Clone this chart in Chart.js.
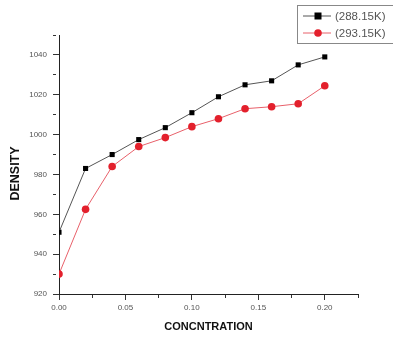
<!DOCTYPE html>
<html>
<head>
<meta charset="utf-8">
<script src="https://cdn.jsdelivr.net/npm/chart.js@4"></script>
<style>
  html, body { margin: 0; padding: 0; background: #fff; }
  #wrap { width: 393px; height: 342px; }
</style>
</head>
<body>
<div id="wrap"><canvas id="densityChart" width="393" height="342"></canvas></div>
<script>
// concentration values (x)
const concentration = [0.00, 0.02, 0.04, 0.06, 0.08, 0.10, 0.12, 0.14, 0.16, 0.18, 0.20];
// density
const density288 = [951, 983, 990, 997.5, 1003.5, 1011, 1019, 1025, 1027, 1035, 1039];
const density293 = [930, 962.5, 984, 994, 998.5, 1004, 1008, 1013, 1014, 1015.5, 1024.5];
const seriesNames = ["(288.15K)", "(293.15K)"];
const yTitle = "DENSITY";

const FONT = "'Liberation Sans', Arial, sans-serif";

// boxed legend in the top right corner + y title (sits a bit below centre in the original)
const extras = {
  id: "extras",
  afterDraw(chart) {
    const c = chart.ctx;
    c.save();
    c.strokeStyle = "#888";
    c.lineWidth = 1;
    c.strokeRect(297.5, 5.5, 110, 38);
    c.font = "11.5px " + FONT;
    c.textBaseline = "middle";
    chart.data.datasets.forEach((ds, i) => {
      const y = 16 + i * 17;
      c.strokeStyle = ds.borderColor;
      c.lineWidth = 1;
      c.beginPath();
      c.moveTo(303, y);
      c.lineTo(331, y);
      c.stroke();
      c.fillStyle = ds.pointBackgroundColor;
      if (ds.pointStyle === "rect") {
        c.fillRect(314.5, y - 3.5, 7, 7);
      } else {
        c.beginPath();
        c.arc(318, y, 3.8, 0, Math.PI * 2);
        c.fill();
      }
      c.fillStyle = "#555";
      c.fillText(ds.label, 335, y + 0.5);
    });

    c.translate(16, 173.5);
    c.rotate(-Math.PI / 2);
    c.font = "bold 12.5px " + FONT;
    c.fillStyle = "#111";
    c.textAlign = "center";
    c.textBaseline = "middle";
    c.fillText(yTitle, 0, 0);
    c.restore();
  }
};

const minorDash = [3, 30];

const ctx = document.getElementById("densityChart").getContext("2d");
const densityChart = new Chart(ctx, {
  type: "line",
  data: {
    datasets: [
      {
        label: seriesNames[0],
        data: concentration.map((x, i) => ({ x: x, y: density288[i] })),
        borderColor: "#555",
        borderWidth: 1,
        pointStyle: "rect",
        pointRadius: 3.6,
        pointBackgroundColor: "#000",
        pointBorderColor: "#000",
        pointBorderWidth: 0,
        tension: 0,
        fill: false
      },
      {
        label: seriesNames[1],
        data: concentration.map((x, i) => ({ x: x, y: density293[i] })),
        borderColor: "#e8606a",
        borderWidth: 1,
        pointStyle: "circle",
        pointRadius: 3.8,
        pointBackgroundColor: "#e3202c",
        pointBorderColor: "#e3202c",
        pointBorderWidth: 0,
        tension: 0,
        fill: false
      }
    ]
  },
  options: {
    responsive: false,
    animation: false,
    layout: { padding: { left: 0, top: 35, right: 35, bottom: 0 } },
    plugins: { legend: { display: false }, tooltip: { enabled: false } },
    scales: {
      x: {
        type: "linear",
        min: 0,
        max: 0.225,
        afterFit: s => { s.height = 48; },
        border: { color: "#222", width: 1 },
        grid: {
          drawOnChartArea: false,
          color: "#333",
          tickLength: 6,
          tickBorderDash: c => (c.index % 2 === 1 ? minorDash : [])
        },
        ticks: {
          stepSize: 0.025,
          color: "#555",
          font: { family: FONT, size: 8 },
          padding: 3,
          maxRotation: 0,
          autoSkip: false,
          callback: (v, i) => (i % 2 === 0 ? Number(v).toFixed(2) : "")
        },
        title: {
          display: true,
          text: "CONCNTRATION",
          color: "#111",
          font: { family: FONT, size: 11, weight: "bold" },
          padding: { top: 8, bottom: 8 }
        }
      },
      y: {
        min: 920,
        max: 1050,
        afterFit: s => { s.width = 59; },
        border: { color: "#222", width: 1 },
        grid: {
          drawOnChartArea: false,
          color: "#333",
          tickLength: 6,
          tickBorderDash: c => (c.index % 2 === 1 ? minorDash : [])
        },
        ticks: {
          stepSize: 10,
          color: "#555",
          font: { family: FONT, size: 8 },
          padding: 6,
          autoSkip: false,
          callback: v => ((v - 920) % 20 === 0 ? String(v) : "")
        },
        title: { display: false, text: yTitle }
      }
    }
  },
  plugins: [extras]
});
</script>
</body>
</html>
